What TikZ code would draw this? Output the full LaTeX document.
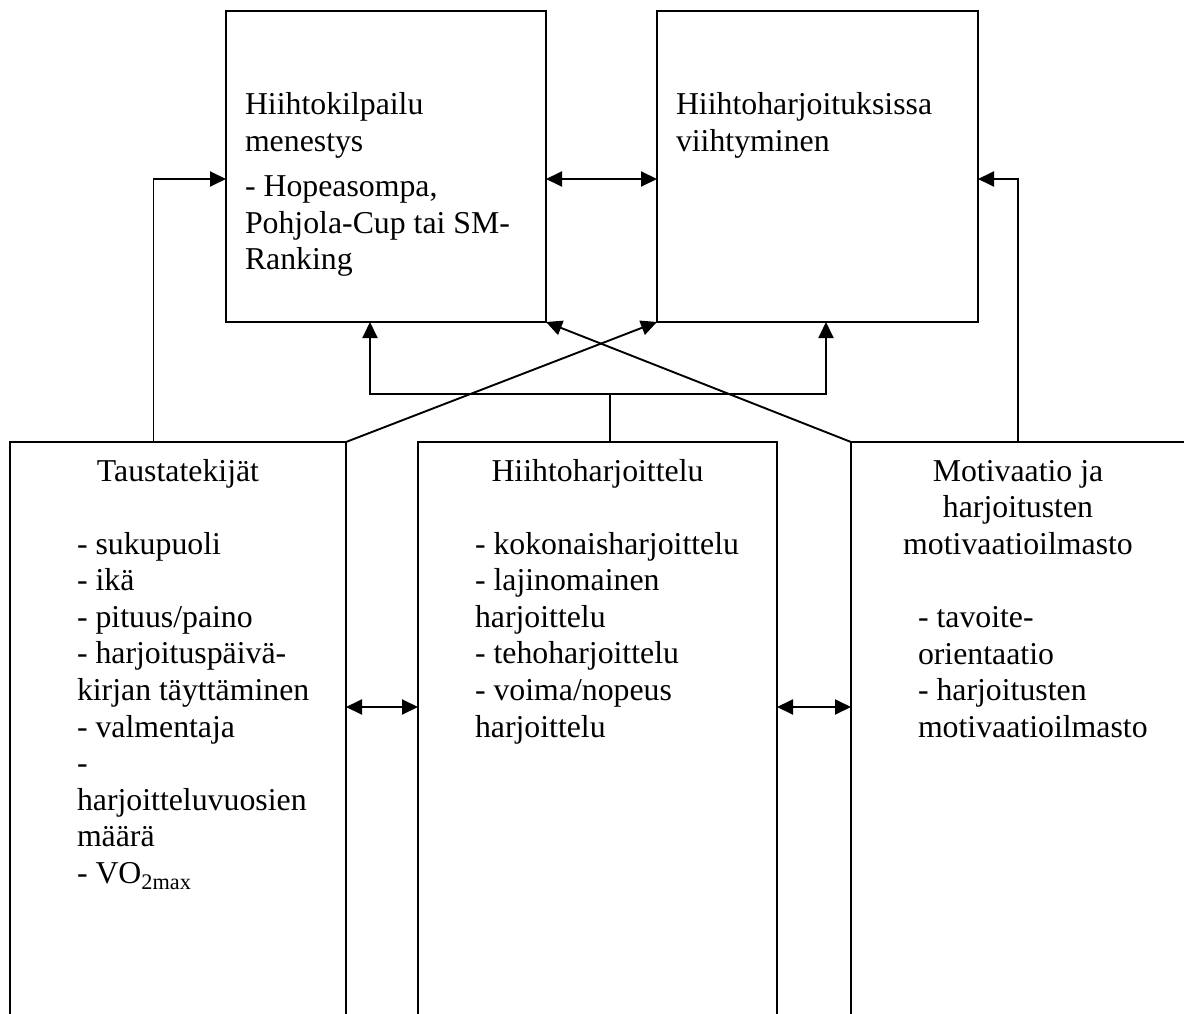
\documentclass[tikz,border=0pt]{standalone}
\usepackage{fontspec}
\setmainfont{Liberation Serif}
\usetikzlibrary{arrows.meta}

\begin{document}
\begin{tikzpicture}[x=1pt, y=-1pt,
  every node/.style={outer sep=0pt},
  panel/.style={draw, line width=1.9pt, rectangle, inner sep=0pt},
  link/.style={line width=1.9pt},
  tip/.tip={Triangle[length=16pt, width=15pt]},
  arr/.style={link, -tip},
  dbl/.style={link, tip-tip},
  txt/.style={inner sep=0pt, font=\fontsize{31.8pt}{36.6pt}\selectfont}]

\fill[white] (0,0) rectangle (1184,1014);
\useasboundingbox (0,0) rectangle (1184,1014);
\clip (0,0) rectangle (1184,1014);

% upper boxes
\node[panel, minimum width=320pt, minimum height=311pt] (win) at (386,166.5) {};
\node[panel, minimum width=321pt, minimum height=311pt] (fun) at (817.5,166.5) {};

% lower boxes, running past the lower edge
\node[panel, minimum width=336pt, minimum height=658pt] (bg)  at (178,771) {};
\node[panel, minimum width=359pt, minimum height=658pt] (tr)  at (597.5,771) {};
\node[panel, minimum width=399pt, minimum height=658pt] (mot) at (1050.5,771) {};

% texts of the upper boxes
\node[txt, anchor=base west] (winT) at (245,114.6)
  {\begin{tabular}[t]{@{}l@{}}Hiihtokilpailu\\menestys\\[9pt]- Hopeasompa,\\Pohjola-Cup tai SM-\\Ranking\end{tabular}};
\node[txt, anchor=base west] (funT) at (676,114.6)
  {\begin{tabular}[t]{@{}l@{}}Hiihtoharjoituksissa\\viihtyminen\end{tabular}};

% texts of the lower boxes
\node[txt, anchor=base] (bgH) at (178,481) {Taustatekijät};
\node[txt, anchor=base west] (bgL) at (77,554)
  {\begin{tabular}[t]{@{}l@{}}- sukupuoli\\- ikä\\- pituus/paino\\- harjoituspäivä-\\kirjan täyttäminen\\- valmentaja\\-\\harjoitteluvuosien\\määrä\\- VO\textsubscript{2max}\end{tabular}};

\node[txt, anchor=base] (trH) at (597.5,481) {Hiihtoharjoittelu};
\node[txt, anchor=base west] (trL) at (475,554)
  {\begin{tabular}[t]{@{}l@{}}- kokonaisharjoittelu\\- lajinomainen\\harjoittelu\\- tehoharjoittelu\\- voima/nopeus\\harjoittelu\end{tabular}};

\node[txt, anchor=base] (motH) at (1018,481)
  {\begin{tabular}[t]{@{}c@{}}Motivaatio ja\\harjoitusten\\motivaatioilmasto\end{tabular}};
\node[txt, anchor=base west] (motL) at (918,627.4)
  {\begin{tabular}[t]{@{}l@{}}- tavoite-\\orientaatio\\- harjoitusten\\motivaatioilmasto\end{tabular}};

% connectors between the upper boxes and from the side boxes
\draw[arr] ([xshift=-24.5pt]bg.north) |- ([yshift=-12.5pt]win.west);
\draw[dbl] ([yshift=-12.5pt]win.east) -- ([yshift=-12.5pt]fun.west);
\draw[arr] ([xshift=-32.5pt]mot.north) |- ([yshift=-12.5pt]fun.east);

% training feeds both outcomes
\draw[link] ([xshift=12.5pt]tr.north) -- ++(0,-48) coordinate (bus);
\draw[arr] (bus) -| ([xshift=-16pt]win.south);
\draw[arr] (bus) -| ([xshift=8.5pt]fun.south);

% crossing diagonals
\draw[arr] (bg.north east) -- (fun.south west);
\draw[arr] (mot.north west) -- (win.south east);

% links between the lower boxes
\draw[dbl] ([yshift=64pt]bg.east) -- ([yshift=64pt]tr.west);
\draw[dbl] ([yshift=64pt]tr.east) -- ([yshift=64pt]mot.west);
\end{tikzpicture}
\end{document}
